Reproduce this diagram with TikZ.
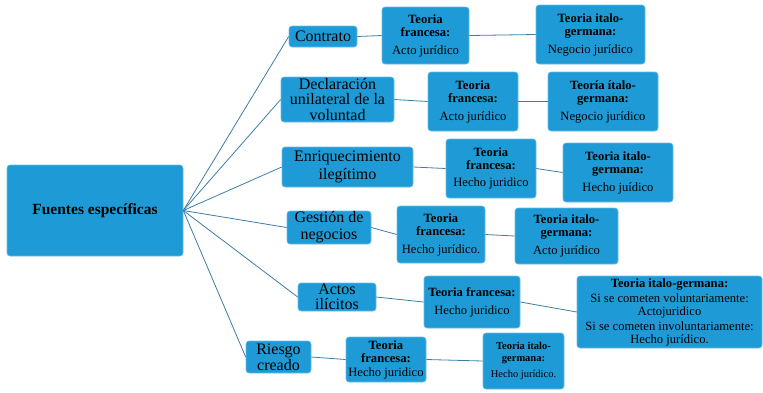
\documentclass[tikz,border=0pt]{standalone}
\usepackage{fontspec}
\setmainfont{Liberation Serif}
\definecolor{boxblue}{HTML}{1E9AD6}
\definecolor{boxedge}{HTML}{6BBDE6}
\definecolor{linkblue}{HTML}{3C7EA6}
\tikzset{
  box/.style={fill=boxblue, draw=boxedge, line width=0.6pt, rounded corners=3pt,
    inner sep=0pt, align=center, text=black},
  lvlone/.style={box, font=\fontsize{16}{15.5}\selectfont},
  lvltwo/.style={box, font=\fontsize{12.6}{13}\selectfont},
  link/.style={draw=linkblue, line width=0.8pt},
}
\begin{document}
\begin{tikzpicture}[x=1pt,y=-1pt]
\useasboundingbox (0,0) rectangle (763,392);
% root
\node[box, minimum width=176pt, minimum height=91pt, font=\fontsize{15.5}{17}\selectfont\bfseries] (root) at (95,210.5) {Fuentes específicas};
% level 1
\node[lvlone, minimum width=68pt, minimum height=21pt] (c1) at (323,36.5) {Contrato};
\node[lvlone, minimum width=113pt, minimum height=45pt] (c2) at (337.5,99.5) {Declaración\\unilateral de la\\voluntad};
\node[lvlone, minimum width=131pt, minimum height=40pt, font=\fontsize{16}{17.5}\selectfont] (c3) at (347.5,167) {Enriquecimiento\\ilegítimo};
\node[lvlone, minimum width=84pt, minimum height=33pt, font=\fontsize{16}{17}\selectfont] (c4) at (329,227.5) {Gestión de\\negocios};
\node[lvlone, minimum width=78pt, minimum height=28pt, font=\fontsize{16}{15}\selectfont] (c5) at (337,297) {Actos\\ilícitos};
\node[lvlone, minimum width=65pt, minimum height=32pt, font=\fontsize{16}{16}\selectfont] (c6) at (278.5,357) {Riesgo\\creado};
% teoria francesa
\node[lvltwo, minimum width=87pt, minimum height=57pt] (f1) at (425.5,35.5) {\textbf{Teoria}\\\textbf{francesa:}\\[5pt]Acto jurídico};
\node[lvltwo, minimum width=90pt, minimum height=59pt] (f2) at (473,101.5) {\textbf{Teoria}\\\textbf{francesa:}\\[5pt]Acto jurídico};
\node[lvltwo, minimum width=90pt, minimum height=59pt] (f3) at (491,168.5) {\textbf{Teoria}\\\textbf{francesa:}\\[4pt]Hecho juridico};
\node[lvltwo, minimum width=88pt, minimum height=57pt] (f4) at (441,234.5) {\textbf{Teoria}\\\textbf{francesa:}\\[5pt]Hecho jurídico.};
\node[lvltwo, minimum width=96pt, minimum height=52pt] (f5) at (472,302) {\textbf{Teoria francesa:}\\[5pt]Hecho juridico};
\node[lvltwo, minimum width=80pt, minimum height=45pt] (f6) at (386,359.5) {\textbf{Teoria}\\\textbf{francesa:}\\[1pt]Hecho juridico};
% teoria italo-germana
\node[lvltwo, minimum width=109pt, minimum height=59pt] (i1) at (590.5,34.5) {\textbf{Teoria italo-}\\\textbf{germana:}\\[5pt]Negocio jurídico};
\node[lvltwo, minimum width=110pt, minimum height=59pt] (i2) at (603,101.5) {\textbf{Teoría ítalo-}\\\textbf{germana:}\\[5pt]Negocio jurídico};
\node[lvltwo, minimum width=110pt, minimum height=59pt] (i3) at (618,172.5) {\textbf{Teoria italo-}\\\textbf{germana:}\\[5pt]Hecho juídico};
\node[lvltwo, minimum width=103pt, minimum height=56pt] (i4) at (566.5,236) {\textbf{Teoria italo-}\\\textbf{germana:}\\[5pt]Acto jurídico};
\node[lvltwo, minimum width=185pt, minimum height=72pt, font=\fontsize{12.6}{12.5}\selectfont] (i5) at (669.5,312) {\textbf{Teoria italo-germana:}\\[3pt]Si se cometen voluntariamente:\\Actojuridico\\[3pt]Si se cometen involuntariamente:\\Hecho jurídico.};
\node[lvltwo, minimum width=81pt, minimum height=56pt, font=\fontsize{10.5}{11.5}\selectfont] (i6) at (523.5,361) {\textbf{Teoria italo-}\\\textbf{germana:}\\[5pt]Hecho jurídico.};
% connectors
\foreach \n in {c1,c2,c3,c4,c5,c6} \draw[link] (root.east) -- (\n.west);
\foreach \i in {1,...,6} {
  \draw[link] (c\i.east) -- (f\i.west);
  \draw[link] (f\i.east) -- (i\i.west);
}
\end{tikzpicture}
\end{document}
